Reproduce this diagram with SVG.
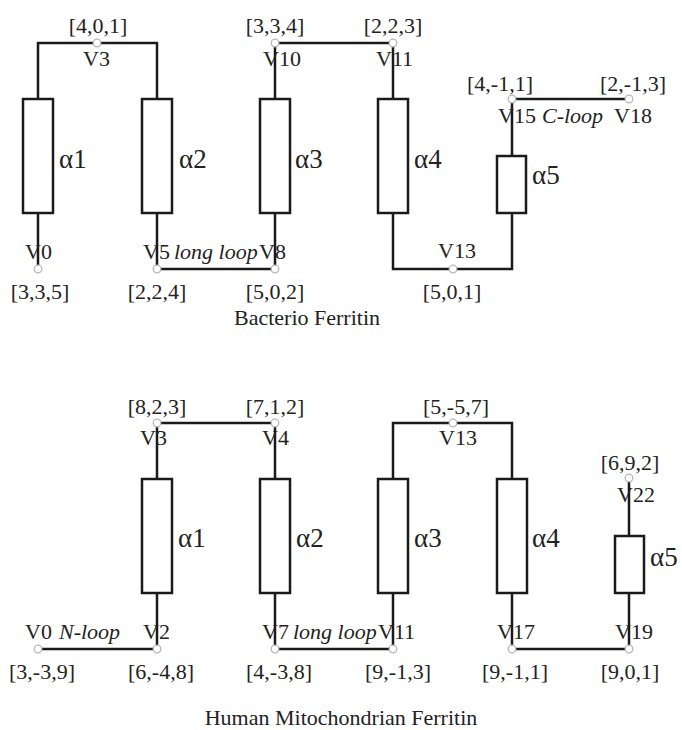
<svg xmlns="http://www.w3.org/2000/svg" width="682" height="730" viewBox="0 0 682 730">
<style>
.ln{stroke:#1a1a1a;stroke-width:2.5;fill:none}
.box{fill:#fff;stroke:#1a1a1a;stroke-width:2.5}
.pt{fill:#fff;stroke:#b8b8b8;stroke-width:1.3}
.t{font-family:"Liberation Serif","Times New Roman",serif;font-size:22px;fill:#222}
.m{text-anchor:middle}
.a{font-size:27px}
.i{font-style:italic}
</style>
<rect width="682" height="730" fill="#fff"/>
<g id="connectors">
<path class="ln" d="M38 99V43H157V99"/>
<path class="ln" d="M275 99V43H393V99"/>
<path class="ln" d="M512 156V99H629"/>
<path class="ln" d="M38 213V269"/>
<path class="ln" d="M157 213V269H275V213"/>
<path class="ln" d="M393 213V269H512V213"/>
<text class="t i" x="174" y="259">long loop</text>
<text class="t i" x="542" y="123">C-loop</text>
<path class="ln" d="M157 479V423H275V479"/>
<path class="ln" d="M393 479V423H512V479"/>
<path class="ln" d="M629 536V478"/>
<path class="ln" d="M38 649H157V593"/>
<path class="ln" d="M275 593V649H393V593"/>
<path class="ln" d="M512 593V649H629V593"/>
<text class="t i" x="59" y="639">N-loop</text>
<text class="t i" x="293" y="639">long loop</text>
</g>
<g id="bacterio">
<g id="b-a1"><rect class="box" x="23" y="99" width="30" height="114"/><text class="t a" x="59" y="168">α1</text></g>
<g id="b-a2"><rect class="box" x="142" y="99" width="30" height="114"/><text class="t a" x="179" y="168">α2</text></g>
<g id="b-a3"><rect class="box" x="260" y="99" width="30" height="114"/><text class="t a" x="295" y="168">α3</text></g>
<g id="b-a4"><rect class="box" x="378" y="99" width="30" height="114"/><text class="t a" x="414" y="168">α4</text></g>
<g id="b-a5"><rect class="box" x="497" y="156" width="29" height="57"/><text class="t a" x="532" y="184">α5</text></g>
<g id="b-v3"><circle class="pt" cx="97" cy="43" r="3.8"/><text class="t m" x="98" y="33">[4,0,1]</text><text class="t" x="83" y="66">V3</text></g>
<g id="b-v10"><circle class="pt" cx="275" cy="43" r="3.8"/><text class="t m" x="275" y="33">[3,3,4]</text><text class="t" x="263" y="66">V10</text></g>
<g id="b-v11"><circle class="pt" cx="393" cy="43" r="3.8"/><text class="t m" x="393" y="33">[2,2,3]</text><text class="t" x="376" y="66">V11</text></g>
<g id="b-v15"><circle class="pt" cx="512" cy="99" r="3.8"/><text class="t m" x="500" y="91">[4,-1,1]</text><text class="t" x="498" y="123">V15</text></g>
<g id="b-v18"><circle class="pt" cx="629" cy="99" r="3.8"/><text class="t m" x="633" y="91">[2,-1,3]</text><text class="t" x="614" y="123">V18</text></g>
<g id="b-v0"><circle class="pt" cx="38" cy="269" r="3.8"/><text class="t" x="25" y="259">V0</text><text class="t m" x="40" y="299">[3,3,5]</text></g>
<g id="b-v5"><circle class="pt" cx="157" cy="269" r="3.8"/><text class="t" x="143" y="259">V5</text><text class="t m" x="157" y="299">[2,2,4]</text></g>
<g id="b-v8"><circle class="pt" cx="275" cy="269" r="3.8"/><text class="t" x="259" y="259">V8</text><text class="t m" x="275" y="299">[5,0,2]</text></g>
<g id="b-v13"><circle class="pt" cx="453" cy="269" r="3.8"/><text class="t" x="438" y="258">V13</text><text class="t m" x="452" y="299">[5,0,1]</text></g>
<text class="t m" x="307" y="325">Bacterio Ferritin</text>
</g>
<g id="human">
<g id="h-a1"><rect class="box" x="142" y="479" width="30" height="114"/><text class="t a" x="178" y="547">α1</text></g>
<g id="h-a2"><rect class="box" x="260" y="479" width="30" height="114"/><text class="t a" x="296" y="547">α2</text></g>
<g id="h-a3"><rect class="box" x="378" y="479" width="30" height="114"/><text class="t a" x="414" y="547">α3</text></g>
<g id="h-a4"><rect class="box" x="497" y="479" width="30" height="114"/><text class="t a" x="532" y="547">α4</text></g>
<g id="h-a5"><rect class="box" x="615" y="536" width="29" height="57"/><text class="t a" x="650" y="566">α5</text></g>
<g id="h-v3"><circle class="pt" cx="157" cy="423" r="3.8"/><text class="t m" x="157" y="414">[8,2,3]</text><text class="t" x="140" y="445">V3</text></g>
<g id="h-v4"><circle class="pt" cx="275" cy="423" r="3.8"/><text class="t m" x="275" y="414">[7,1,2]</text><text class="t" x="262" y="445">V4</text></g>
<g id="h-v13"><circle class="pt" cx="453" cy="423" r="3.8"/><text class="t m" x="456" y="414">[5,-5,7]</text><text class="t" x="439" y="445">V13</text></g>
<g id="h-v22"><circle class="pt" cx="629" cy="478" r="3.8"/><text class="t m" x="630" y="470">[6,9,2]</text><text class="t" x="617" y="502">V22</text></g>
<g id="h-v0"><circle class="pt" cx="38" cy="649" r="3.8"/><text class="t" x="25" y="639">V0</text><text class="t m" x="42" y="679">[3,-3,9]</text></g>
<g id="h-v2"><circle class="pt" cx="157" cy="649" r="3.8"/><text class="t" x="143" y="639">V2</text><text class="t m" x="161" y="679">[6,-4,8]</text></g>
<g id="h-v7"><circle class="pt" cx="275" cy="649" r="3.8"/><text class="t" x="262" y="639">V7</text><text class="t m" x="279" y="679">[4,-3,8]</text></g>
<g id="h-v11"><circle class="pt" cx="393" cy="649" r="3.8"/><text class="t" x="378" y="639">V11</text><text class="t m" x="398" y="679">[9,-1,3]</text></g>
<g id="h-v17"><circle class="pt" cx="512" cy="649" r="3.8"/><text class="t" x="497" y="639">V17</text><text class="t m" x="515" y="679">[9,-1,1]</text></g>
<g id="h-v19"><circle class="pt" cx="629" cy="649" r="3.8"/><text class="t" x="615" y="639">V19</text><text class="t m" x="630" y="679">[9,0,1]</text></g>
<text class="t m" x="341" y="725">Human Mitochondrian Ferritin</text>
</g>
</svg>
